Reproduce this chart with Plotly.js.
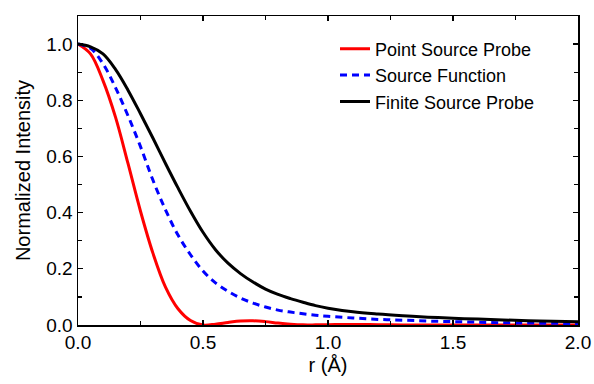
<!DOCTYPE html>
<html>
<head>
<meta charset="utf-8">
<script src="https://cdn.plot.ly/plotly-3.0.1.min.js"></script>
<style>
html,body{margin:0;padding:0;background:#fff;}
#chart{width:594px;height:384px;}
</style>
</head>
<body>
<div id="chart"></div>
<script>
// r values (Å)
const rValues = [0, 0.05, 0.1, 0.15, 0.2, 0.25, 0.3, 0.35, 0.4, 0.45, 0.5, 0.55, 0.6, 0.65, 0.7, 0.75, 0.8, 0.85, 0.9, 0.95, 1.0, 1.1, 1.2, 1.3, 1.4, 1.5, 1.6, 1.7, 1.8, 1.9, 2.0];

const pointSourceProbe = [1.0, 0.965, 0.87, 0.74, 0.575, 0.405, 0.255, 0.135, 0.058, 0.016, 0.0, 0.003, 0.009, 0.014, 0.015, 0.012, 0.007, 0.003, 0.0005, 0.0005, 0.001, 0.002, 0.001, 0.0, 0.0, 0.0, 0.0, 0.0, 0.0, 0.0, 0.0];

const sourceFunction = [1.0, 0.985, 0.93, 0.845, 0.745, 0.635, 0.515, 0.41, 0.32, 0.25, 0.192, 0.15, 0.12, 0.096, 0.078, 0.064, 0.053, 0.046, 0.04, 0.035, 0.031, 0.025, 0.02, 0.017, 0.014, 0.012, 0.01, 0.008, 0.007, 0.006, 0.005];

const finiteSourceProbe = [1.0, 0.99, 0.965, 0.91, 0.836, 0.752, 0.665, 0.575, 0.488, 0.405, 0.33, 0.268, 0.22, 0.183, 0.153, 0.128, 0.109, 0.094, 0.081, 0.069, 0.06, 0.047, 0.039, 0.033, 0.028, 0.024, 0.021, 0.018, 0.015, 0.013, 0.012];

const seriesNames = ["Point Source Probe", "Source Function", "Finite Source Probe"];
const xTickVals = [0, 0.5, 1.0, 1.5, 2.0];
const xTickText = ["0.0", "0.5", "1.0", "1.5", "2.0"];
const yTickVals = [0, 0.2, 0.4, 0.6, 0.8, 1.0];
const yTickText = ["0.0", "0.2", "0.4", "0.6", "0.8", "1.0"];

const FONT = "Liberation Sans, Arial, sans-serif";

const traces = [
  {x: rValues, y: pointSourceProbe, name: seriesNames[0], mode: "lines",
   line: {color: "#ff0000", width: 3, shape: "spline", smoothing: 1}},
  {x: rValues, y: sourceFunction, name: seriesNames[1], mode: "lines",
   line: {color: "#0000ff", width: 3, dash: "7px,5px", shape: "spline", smoothing: 1}},
  {x: rValues, y: finiteSourceProbe, name: seriesNames[2], mode: "lines",
   line: {color: "#000000", width: 3, shape: "spline", smoothing: 1}}
];

const axisCommon = {
  showgrid: false, zeroline: false,
  showline: true, linecolor: "#000", linewidth: 1.5,
  mirror: "ticks", ticks: "inside", ticklen: 5, tickwidth: 1.2, tickcolor: "#000",
  tickfont: {family: FONT, size: 19, color: "#000"}
};

const layout = {
  width: 594, height: 384,
  margin: {l: 78, r: 16, t: 16, b: 59},
  paper_bgcolor: "#fff", plot_bgcolor: "#fff",
  font: {family: FONT, color: "#000"},
  showlegend: true,
  legend: {x: 0.514, y: 0.953, xanchor: "left", yanchor: "top",
           bgcolor: "rgba(0,0,0,0)", font: {family: FONT, size: 18, color: "#000"}},
  xaxis: Object.assign({}, axisCommon, {
    range: [0, 2], tickvals: xTickVals, ticktext: xTickText,
    minor: {dtick: 0.25, tick0: 0, ticks: "inside", ticklen: 4, tickwidth: 1.2, tickcolor: "#000"},
    title: {text: "r (Å)", font: {family: FONT, size: 20, color: "#000"}, standoff: 5}
  }),
  yaxis: Object.assign({}, axisCommon, {
    range: [0, 1.1], tickvals: yTickVals, ticktext: yTickText,
    minor: {dtick: 0.1, tick0: 0, ticks: "inside", ticklen: 4, tickwidth: 1.2, tickcolor: "#000"},
    title: {text: "Normalized Intensity", font: {family: FONT, size: 20, color: "#000"}, standoff: 10}
  })
};

Plotly.newPlot("chart", traces, layout, {displayModeBar: false, staticPlot: true});
</script>
</body>
</html>
